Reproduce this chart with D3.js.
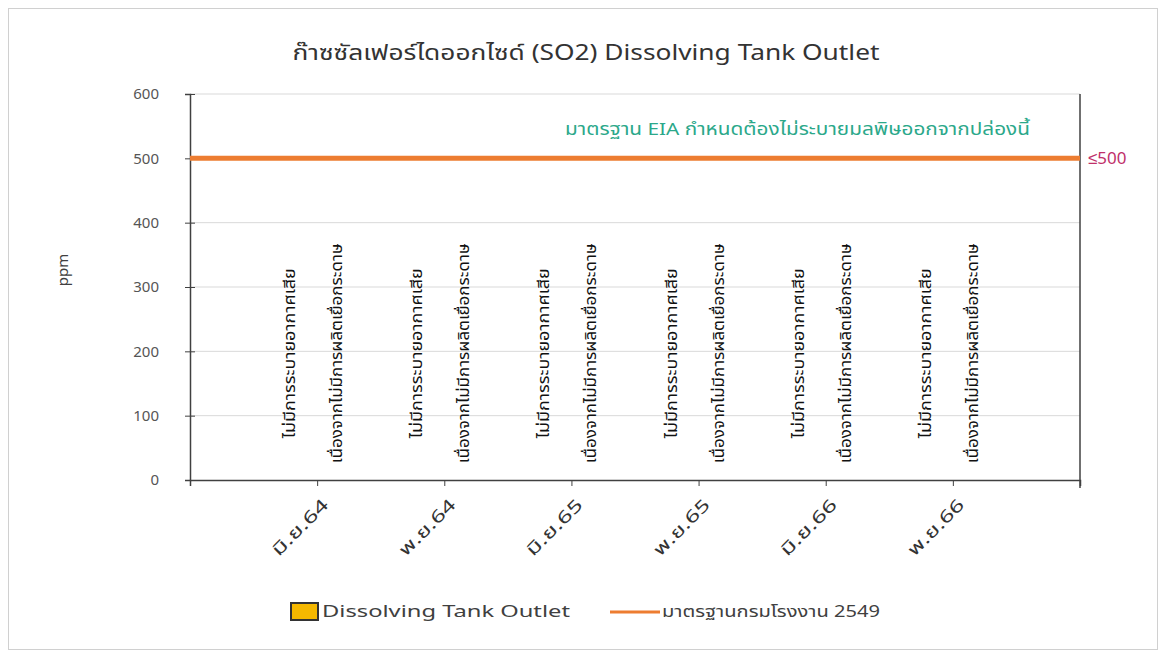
<!DOCTYPE html>
<html>
<head>
<meta charset="utf-8">
<script src="https://cdn.jsdelivr.net/npm/d3@7"></script>
<style>
  body { margin: 0; background: #fff; }
  svg { display: block; }
</style>
</head>
<body>
<div id="chart"></div>
<script>
// data
var categories = ["มิ.ย.64", "พ.ย.64", "มิ.ย.65", "พ.ย.65", "มิ.ย.66", "พ.ย.66"];
var tankValues = [null, null, null, null, null, null];   // no emission measured
var standardValue = 500;
var yTicks = [0, 100, 200, 300, 400, 500, 600];
var noteLines = ["ไม่มีการระบายอากาศเสีย", "เนื่องจากไม่มีการผลิตเยื่อกระดาษ"];

var drawChart = function() {
    var width = 1163, height = 655;
    var fontFamily = "'Noto Sans', 'Noto Sans Thai', Tahoma, sans-serif";
    var plot = {left: 190, right: 1080, top: 94, bottom: 480};

    var svg = d3.select("#chart").append("svg")
        .attr("width", width).attr("height", height)
        .style("font-family", fontFamily);

    // outer chart frame
    svg.append("rect")
        .attr("x", 8.5).attr("y", 8.5)
        .attr("width", width - 14).attr("height", height - 14)
        .attr("fill", "#fff").attr("stroke", "#d0d0d0");

    var x = d3.scaleLinear()
        .domain([-1, categories.length])
        .range([plot.left, plot.right]);
    var y = d3.scaleLinear()
        .domain([0, 600])
        .range([plot.bottom, plot.top]);

    // gridlines
    svg.append("g").selectAll("line")
        .data(yTicks.filter(d => d > 0))
        .join("line")
        .attr("x1", plot.left).attr("x2", plot.right)
        .attr("y1", d => y(d)).attr("y2", d => y(d))
        .attr("stroke", "#d9d9d9").attr("stroke-width", 1);

    // y axis
    var yAxis = svg.append("g")
        .attr("transform", "translate(" + plot.left + ",0)")
        .call(d3.axisLeft(y).tickValues(yTicks).tickSize(5).tickPadding(26));
    yAxis.select(".domain").attr("stroke", "#404040").attr("stroke-width", 1.5);
    yAxis.selectAll(".tick line").attr("stroke", "#404040").attr("x2", 5).attr("x1", -5);
    yAxis.selectAll(".tick text")
        .attr("fill", "#555").attr("font-size", 15).attr("font-family", fontFamily);

    // right axis line
    svg.append("line")
        .attr("x1", plot.right).attr("x2", plot.right)
        .attr("y1", plot.top).attr("y2", plot.bottom + 8)
        .attr("stroke", "#404040").attr("stroke-width", 1.5);

    // x axis
    var xAxis = svg.append("g")
        .attr("transform", "translate(0," + plot.bottom + ")")
        .call(d3.axisBottom(x)
            .tickValues(d3.range(-1, categories.length + 1))
            .tickSize(6)
            .tickFormat(i => categories[i] || ""));
    xAxis.select(".domain").attr("stroke", "#404040").attr("stroke-width", 1.5);
    xAxis.selectAll(".tick line").attr("stroke", "#404040");
    xAxis.selectAll(".tick text")
        .filter(function() { return this.textContent !== ""; })
        .attr("fill", "#333").attr("font-size", 17).attr("font-family", fontFamily)
        .attr("text-anchor", "end")
        .attr("textLength", 72).attr("lengthAdjust", "spacingAndGlyphs")
        .attr("dy", 0).attr("y", 0)
        .attr("transform", "translate(12,26) rotate(-45)");

    // bars (empty series)
    var bw = 60;
    svg.append("g").selectAll("rect")
        .data(tankValues.map((v, i) => ({v: v, i: i})).filter(d => d.v != null))
        .join("rect")
        .attr("x", d => x(d.i) - bw / 2).attr("width", bw)
        .attr("y", d => y(d.v)).attr("height", d => y(0) - y(d.v))
        .attr("fill", "#f5b800").attr("stroke", "#333");

    // standard line
    svg.append("line")
        .attr("x1", plot.left).attr("x2", plot.right)
        .attr("y1", y(standardValue)).attr("y2", y(standardValue))
        .attr("stroke", "#ed7d31").attr("stroke-width", 5);

    svg.append("text")
        .attr("x", plot.right + 8).attr("y", y(standardValue) + 6)
        .attr("fill", "#c0306a").attr("font-size", 17)
        .text("≤" + standardValue);

    svg.append("text")
        .attr("x", 565).attr("y", 135)
        .attr("fill", "#2ba88a").attr("font-size", 17)
        .attr("textLength", 465).attr("lengthAdjust", "spacingAndGlyphs")
        .text("มาตรฐาน EIA กำหนดต้องไม่ระบายมลพิษออกจากปล่องนี้");

    // vertical notes per category
    var notes = svg.append("g");
    var noteLen = [170, 220];
    categories.forEach(function(c, i) {
        noteLines.forEach(function(t, j) {
            notes.append("text")
                .attr("transform", "translate(" + (x(i) - 22 + j * 47) + "," + (y(200) + 2) + ") rotate(-90)")
                .attr("text-anchor", "middle")
                .attr("fill", "#111").attr("font-size", 15)
                .attr("textLength", noteLen[j]).attr("lengthAdjust", "spacingAndGlyphs")
                .text(t);
        });
    });

    // title
    svg.append("text")
        .attr("x", 586).attr("y", 60)
        .attr("text-anchor", "middle")
        .attr("fill", "#333").attr("font-size", 21)
        .attr("textLength", 587).attr("lengthAdjust", "spacingAndGlyphs")
        .text("ก๊าซซัลเฟอร์ไดออกไซด์ (SO2) Dissolving Tank Outlet");

    // y title
    svg.append("text")
        .attr("transform", "translate(68," + 270 + ") rotate(-90)")
        .attr("text-anchor", "middle")
        .attr("fill", "#404040").attr("font-size", 15)
        .text("ppm");

    // legend
    var lg = svg.append("g").attr("transform", "translate(0,612)");
    lg.append("rect")
        .attr("x", 291).attr("y", -9).attr("width", 27).attr("height", 17)
        .attr("fill", "#f5b800").attr("stroke", "#333").attr("stroke-width", 2);
    lg.append("text").attr("x", 322).attr("y", 5)
        .attr("fill", "#404040").attr("font-size", 16)
        .attr("textLength", 248).attr("lengthAdjust", "spacingAndGlyphs")
        .text("Dissolving Tank Outlet");
    lg.append("line")
        .attr("x1", 610).attr("x2", 660).attr("y1", 0).attr("y2", 0)
        .attr("stroke", "#ed7d31").attr("stroke-width", 3);
    lg.append("text").attr("x", 662).attr("y", 5)
        .attr("fill", "#404040").attr("font-size", 16)
        .attr("textLength", 218).attr("lengthAdjust", "spacingAndGlyphs")
        .text("มาตรฐานกรมโรงงาน 2549");
};

window.addEventListener("load", drawChart);
</script>
</body>
</html>
